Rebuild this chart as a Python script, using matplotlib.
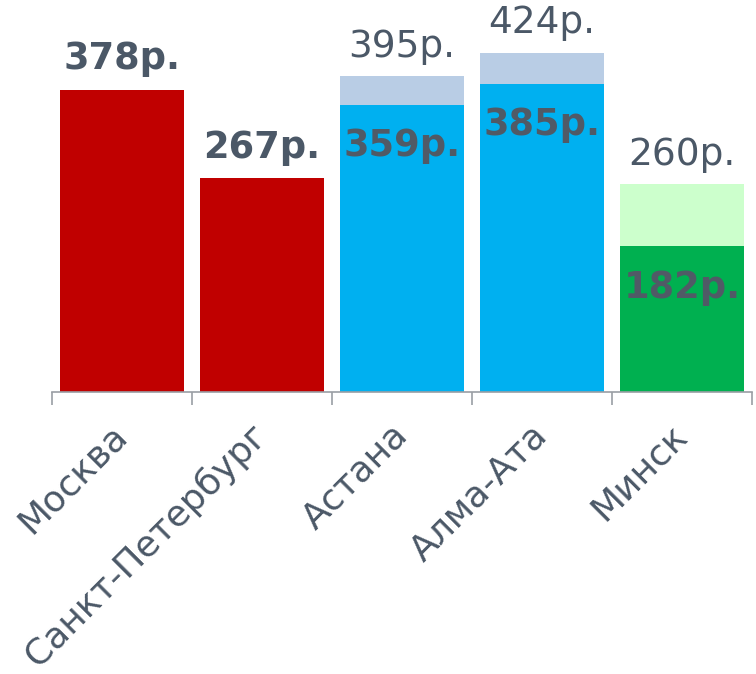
import matplotlib
matplotlib.use("Agg")
import matplotlib.pyplot as plt
from matplotlib.ticker import FixedLocator

# data
cities = ["Москва", "Санкт-Петербург", "Астана", "Алма-Ата", "Минск"]
base_values = [378, 267, 359, 385, 182]
total_values = [None, None, 395, 424, 260]

base_colors = ["#c00000", "#c00000", "#00b0f0", "#00b0f0", "#00b050"]
top_colors = [None, None, "#b9cde5", "#b9cde5", "#ccffcc"]

text_color = "#4b5867"
axis_color = "#9a9ea4"

fig = plt.figure(figsize=(7.56, 6.74), dpi=100)
ax = fig.add_axes([52 / 756, 1 - 392 / 674, 700 / 756, 392 / 674])

x = list(range(len(cities)))
width = 0.89
ax.bar(x, base_values, width=width, color=base_colors, zorder=2)

for i, (b, t) in enumerate(zip(base_values, total_values)):
    if t is None:
        ax.annotate(f"{b}р.", (i, b), xytext=(0, 15), textcoords="offset points",
                    ha="center", va="baseline", fontsize=26.5, fontweight="bold",
                    color=text_color)
        continue
    ax.bar(i, t - b, bottom=b, width=width, color=top_colors[i], zorder=2)
    ax.annotate(f"{t}р.", (i, t), xytext=(0, 14), textcoords="offset points",
                ha="center", va="baseline", fontsize=27, color=text_color)
    ax.annotate(f"{b}р.", (i, b), xytext=(0, -16), textcoords="offset points",
                ha="center", va="top", fontsize=26.5, fontweight="bold",
                color="#505a66")

ax.set_xlim(-0.5, len(cities) - 0.5)
ax.set_ylim(0, 490)

for side in ["top", "right", "left"]:
    ax.spines[side].set_visible(False)
ax.spines["bottom"].set_color(axis_color)
ax.spines["bottom"].set_linewidth(1.2)
ax.set_yticks([])

ax.set_xticks(x)
ax.set_xticklabels(cities, rotation=45, ha="right", va="center",
                   rotation_mode="anchor", fontsize=26, color=text_color)
ax.tick_params(axis="x", which="major", length=0, pad=27)
ax.xaxis.set_minor_locator(FixedLocator([i - 0.5 for i in range(len(cities) + 1)]))
ax.tick_params(axis="x", which="minor", length=9, width=1.2, color=axis_color,
               direction="out")

fig.savefig("out.png", dpi=100)
